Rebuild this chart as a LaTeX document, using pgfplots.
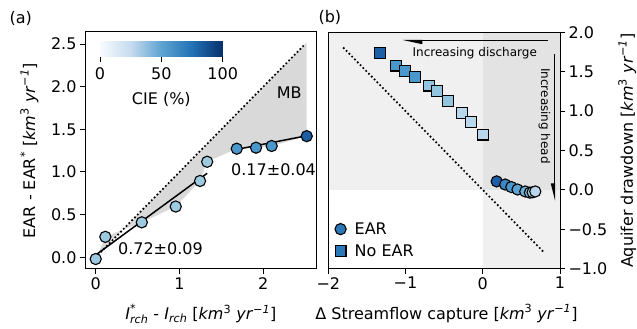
\documentclass[border=0pt]{standalone}
\usepackage{amsmath}
\usepackage{fontspec}
\setmainfont{DejaVu Sans}
\usepackage{pgfplots}
\pgfplotsset{compat=1.18}
\usetikzlibrary{arrows.meta}

\definecolor{cdark}{HTML}{1B5EA6}
\definecolor{cmed}{HTML}{4A97CC}
\definecolor{clight}{HTML}{9ECAE1}
\definecolor{cmid}{HTML}{92C4DF}
\definecolor{clighter}{HTML}{B9D7EC}
\definecolor{cleg}{HTML}{2A78B8}
\definecolor{gfill}{HTML}{D9D9D9}
\definecolor{bglight}{HTML}{F0F0F0}
\definecolor{bgdark}{HTML}{E3E3E3}
\definecolor{bzero}{HTML}{F7FBFF}
\definecolor{bone}{HTML}{C6DBEF}
\definecolor{btwo}{HTML}{5EA3D1}
\definecolor{bthree}{HTML}{2171B5}
\definecolor{bfour}{HTML}{08306B}
\definecolor{g1}{HTML}{1C5FA7}
\definecolor{g2}{HTML}{3A87C3}
\definecolor{g3}{HTML}{4A97CC}
\definecolor{g4}{HTML}{5AA2D2}
\definecolor{g5}{HTML}{6FB0D8}
\definecolor{g6}{HTML}{86BCDD}
\definecolor{g7}{HTML}{9ECAE1}
\definecolor{g8}{HTML}{BAD6EB}

\pgfdeclarehorizontalshading{blues}{100bp}{color(0bp)=(bzero); color(25bp)=(bzero); color(37.5bp)=(bone); color(50bp)=(btwo); color(62.5bp)=(bthree); color(75bp)=(bfour); color(100bp)=(bfour)}

\newcommand\fs{\fontsize{16}{19}\selectfont}
\newcommand\unit{[\textit{km}\textsuperscript{3} \textit{yr}\textsuperscript{\textit{−1}}]}

\pgfplotsset{
  common/.style={
    scale only axis,
    axis line style={line width=1pt},
    every tick/.style={black, line width=1pt},
    tick align=outside,
    major tick length=5pt,
    ticklabel style={font=\fs},
    label style={font=\fs},
    /pgf/number format/assume math mode=true,
  },
  pc/.style={only marks, mark=*, mark size=5.6pt, mark options={draw=black, line width=1.1pt, fill=#1}},
  ps/.style={only marks, mark=square*, mark size=5.4pt, mark options={draw=black, line width=1.1pt, fill=#1}},
}

\begin{document}
\begin{tikzpicture}
\path[use as bounding box] (0,0) rectangle (637pt,329pt);

% ---------------- panel (a)
\begin{axis}[common,
  at={(85pt,60pt)}, anchor=south west,
  width=231.7pt, height=237pt,
  xmin=-0.1277, xmax=2.637, ymin=-0.137, ymax=2.641,
  xtick={0,1,2}, xticklabels={0,1,2},
  ytick={0,0.5,1,1.5,2,2.5}, yticklabels={0.0,0.5,1.0,1.5,2.0,2.5},
  xtick pos=bottom, ytick pos=left,
  xlabel={$\textit{I}^{\textit{*}}_{\textit{rch}}$ - $\textit{I}_{\textit{rch}}$ \unit},
  ylabel={EAR - EAR\textsuperscript{*} \unit},
  xlabel style={at={(axis description cs:0.5,-0.19)}, anchor=center},
  ylabel style={at={(axis description cs:-0.24,0.5)}, anchor=center},
  clip=false,
]
\addplot[fill=gfill, draw=none] coordinates {
  (0,-0.02) (0.115,0.24) (0.55,0.41) (0.955,0.595) (1.245,0.895) (1.33,1.12)
  (1.683,1.273) (1.913,1.285) (2.10,1.305) (2.518,1.42) (2.518,2.518) (0,0)} -- cycle;
\addplot[black, line width=2.4pt, dash pattern=on 0pt off 4pt, line cap=round] coordinates {(0,0) (2.5,2.5)};
\addplot[pc=clight] coordinates {(0,-0.02) (0.115,0.24) (0.55,0.41) (0.955,0.595) (1.245,0.895) (1.33,1.12)};
\addplot[pc=cmed] coordinates {(1.683,1.273) (1.913,1.285) (2.10,1.305)};
\addplot[pc=cdark] coordinates {(2.518,1.42)};
\addplot[black, line width=1.5pt] coordinates {(0,0.027) (1.33,0.985)};
\addplot[black, line width=1.5pt] coordinates {(1.683,1.265) (2.518,1.425)};
\node[font=\fs, anchor=east] at (axis cs:2.5,1.93) {MB};
\node[font=\fs, anchor=west] at (axis cs:1.575,1.023) {0.17±0.04};
\node[font=\fs, anchor=west] at (axis cs:0.225,0.097) {0.72±0.09};
\end{axis}

% ---------------- colorbar
\begin{axis}[common,
  at={(100pt,272.3pt)}, anchor=south west,
  width=122.7pt, height=15pt,
  xmin=0, xmax=100, ymin=0, ymax=1,
  ytick=\empty, xtick={0,50,100}, xticklabels={0,50,100},
  xtick pos=bottom,
  xticklabel style={yshift=-2pt},
  xlabel={CIE (\%)},
  xlabel style={at={(axis description cs:0.5,-2.87)}, anchor=center},
]
\shade[shading=blues] (axis cs:0,0) rectangle (axis cs:100,1);
\end{axis}

% ---------------- panel (b)
\begin{axis}[common,
  at={(328.3pt,60.3pt)}, anchor=south west,
  width=231.7pt, height=236.4pt,
  xmin=-2, xmax=1, ymin=-1, ymax=2,
  xtick={-2,-1,0,1}, xticklabels={−2,−1,0,1},
  ytick={-1,-0.5,0,0.5,1,1.5,2}, yticklabels={−1.0,−0.5,0.0,0.5,1.0,1.5,2.0},
  xtick pos=bottom, ytick pos=right, yticklabel pos=right,
  xlabel={Δ Streamflow capture \unit},
  ylabel={Aquifer drawdown \unit},
  xlabel style={at={(axis description cs:0.51,-0.19)}, anchor=center},
  ylabel style={at={(axis description cs:1.29,0.5)}, anchor=center, rotate=0},
  axis on top,
  legend style={at={(axis description cs:0.028,0.045)}, anchor=south west, draw=none, fill=none, font=\fs, row sep=9pt, inner sep=0pt, nodes={inner xsep=8.5pt, inner ysep=0pt}},
  legend cell align=left,
]
\fill[bglight] (axis cs:-2,0) rectangle (axis cs:0,2);
\fill[bglight] (axis cs:0,-1) rectangle (axis cs:1,0);
\fill[bgdark] (axis cs:0,0) rectangle (axis cs:1,2);
\addplot[black, line width=2.4pt, dash pattern=on 0pt off 4pt, line cap=round, forget plot] coordinates {(-1.8,1.8) (0.8,-0.8)};
\addplot[ps=g1, forget plot] coordinates {(-1.33,1.733)};
\addplot[ps=g3, forget plot] coordinates {(-1.127,1.577) (-1.006,1.505) (-0.873,1.434)};
\addplot[ps=cmid, forget plot] coordinates {(-0.692,1.324) (-0.596,1.251) (-0.446,1.124)};
\addplot[ps=clighter, forget plot] coordinates {(-0.272,0.972) (-0.152,0.858) (0.0,0.702)};
\addplot[pc=g1, forget plot] coordinates {(0.18,0.108)};
\addplot[pc=g2, forget plot] coordinates {(0.29,0.068)};
\addplot[pc=g3, forget plot] coordinates {(0.37,0.036)};
\addplot[pc=g4, forget plot] coordinates {(0.45,0.005)};
\addplot[pc=g5, forget plot] coordinates {(0.55,-0.02)};
\addplot[pc=g6, forget plot] coordinates {(0.61,-0.035)};
\addplot[pc=g7, forget plot] coordinates {(0.645,-0.03)};
\addplot[pc=g8, forget plot] coordinates {(0.68,-0.02)};
\addlegendimage{pc=cleg}
\addlegendentry{EAR}
\addlegendimage{ps=cleg}
\addlegendentry{No EAR}
% arrows
\draw[black, line width=1.2pt, -{Triangle[left, length=17pt, width=7pt]}] (axis cs:0.846,1.895) -- (axis cs:-1.04,1.895);
\node[font=\fontsize{12}{14}\selectfont] at (axis cs:-0.104,1.739) {Increasing discharge};
\draw[black, line width=1.2pt, -{Triangle[right, length=15pt, width=7pt]}] (axis cs:0.928,1.73) -- (axis cs:0.928,-0.14);
\node[font=\fontsize{12}{14}\selectfont, rotate=-90] at (axis cs:0.798,0.937) {Increasing head};
\end{axis}

\node[font=\fs, anchor=west] at (6pt,311pt) {(a)};
\node[font=\fs, anchor=west] at (315pt,312pt) {(b)};
\end{tikzpicture}
\end{document}
